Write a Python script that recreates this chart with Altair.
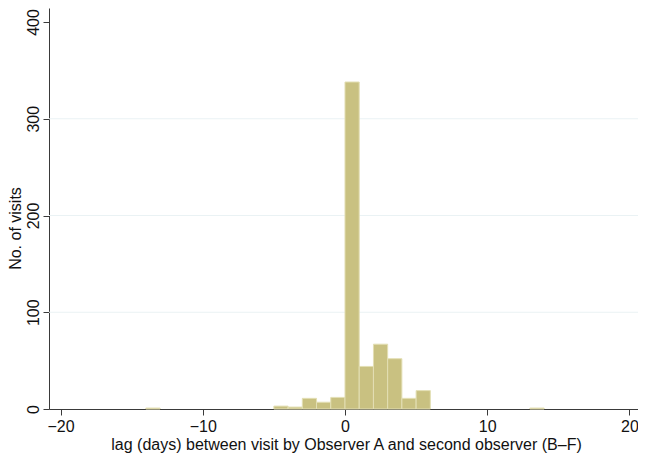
import altair as alt
import pandas as pd

# Histogram bins (width 1 day) and counts
bin_start = [-14, -5, -4, -3, -2, -1, 0, 1, 2, 3, 4, 5, 13]
counts = [1, 3, 2, 11, 7, 12, 338, 44, 67, 52, 11, 19, 1]
grid_values = [100, 200, 300]
x_ticks = [-20, -10, 0, 10, 20]
y_ticks = [0, 100, 200, 300, 400]

df = pd.DataFrame({
    "start": bin_start,
    "end": [s + 1 for s in bin_start],
    "count": counts,
})
grid_df = pd.DataFrame({"g": grid_values})

FONT = "Liberation Sans"
FS = 16
X_DOMAIN = [-20.81, 20.6]
Y_DOMAIN = [0, 414.5]

xscale = alt.Scale(domain=X_DOMAIN, nice=False, zero=False)
yscale = alt.Scale(domain=Y_DOMAIN, nice=False)

xaxis = alt.Axis(
    values=x_ticks,
    title="lag (days) between visit by Observer A and second observer (B\u2013F)",
    grid=False,
    tickSize=6,
    labelPadding=3,
    labelFontSize=FS,
    titleFontSize=FS,
    titleFontWeight="normal",
    titleX=297,
    titleY=40,
    titleAlign="center",
    titleBaseline="alphabetic",
    labelFlush=False,
)

yaxis = alt.Axis(
    values=y_ticks,
    title="No. of visits",
    grid=False,
    tickSize=6,
    labelAngle=270,
    labelAlign="center",
    labelBaseline="alphabetic",
    labelPadding=5,
    labelFontSize=FS,
    titleFontSize=FS,
    titleFontWeight="normal",
    titleX=-29,
    titleY=220,
    titleAngle=270,
    titleAlign="center",
    titleBaseline="alphabetic",
    labelFlush=False,
)

grid = alt.Chart(grid_df).mark_rule(color="#eaf2f4", strokeWidth=1).encode(
    y=alt.Y("g:Q", scale=yscale, axis=yaxis)
)

bars = alt.Chart(df).mark_rect(
    fill="#c9c181", stroke="#e3dfb4", strokeWidth=1
).encode(
    x=alt.X("start:Q", scale=xscale, axis=xaxis),
    x2="end:Q",
    y=alt.Y("count:Q", scale=yscale, axis=yaxis),
    y2=alt.Y2(datum=0),
)

chart = alt.layer(grid, bars).properties(
    width=589,
    height=401,
    padding={"left": 41, "top": 0, "right": 0, "bottom": 44},
    autosize=alt.AutoSizeParams(type="none"),
).configure_view(
    stroke=None
).configure_axis(
    domainColor="#3a3a3a",
    tickColor="#3a3a3a",
    labelColor="#111111",
    titleColor="#111111",
    labelFont=FONT,
    titleFont=FONT,
    domainWidth=1,
    tickWidth=1,
)

chart.save("out.html", embed_options={"renderer": "svg", "actions": False})
